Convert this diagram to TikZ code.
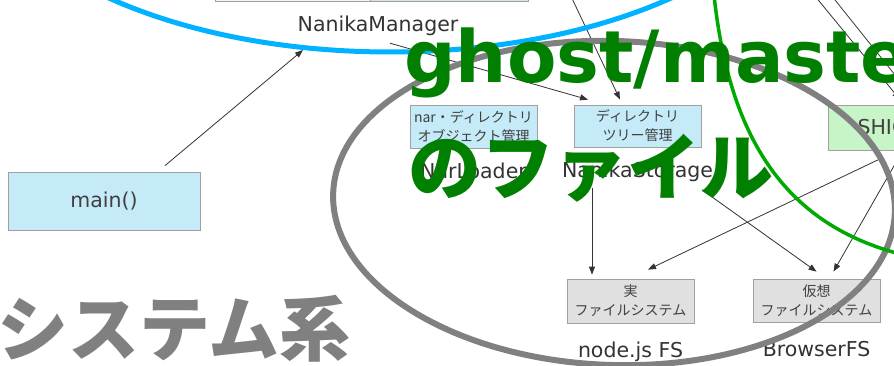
\documentclass[tikz,border=0pt]{standalone}
\usepackage{fontspec}
\setmainfont{DejaVu Sans}
\newfontfamily\jpfont{Noto Sans CJK JP}
\usetikzlibrary{positioning,arrows.meta}

\definecolor{boxblue}{HTML}{C5EAF8}
\definecolor{boxgreen}{HTML}{C8F5C8}
\definecolor{boxgray}{HTML}{E0E0E0}
\definecolor{boxline}{HTML}{A0A0A0}
\definecolor{mgrgray}{HTML}{F4F4F4}
\definecolor{mgrblue}{HTML}{D2E4EA}
\definecolor{ringblue}{HTML}{00B2FF}
\definecolor{ringgreen}{HTML}{00AA00}
\definecolor{ringgray}{HTML}{808080}
\definecolor{titlegreen}{HTML}{007F00}
\newcommand\lblfont{\fontsize{20.5}{24}\selectfont}

\begin{document}
\begin{tikzpicture}[x=1pt, y=-1pt,
  box/.style = {draw=boxline, line width=0.8pt, inner sep=0pt, align=center,
                text=black!75, font=\jpfont\fontsize{14}{19}\selectfont},
  bluebox/.style = {box, fill=boxblue, minimum width=127pt, minimum height=43pt},
  graybox/.style = {box, fill=boxgray, minimum width=127pt, minimum height=43pt},
  greenbox/.style = {box, fill=boxgreen, minimum width=130pt, minimum height=45pt,
                     font=\lblfont},
  mgrbox/.style = {box, minimum height=43pt},
  lbl/.style = {inner sep=0pt, text=black!80, font=\lblfont,
                text height=15pt, text depth=4pt},
  arr/.style = {draw=black!80, line width=0.8pt, -{Triangle[length=8pt,width=6pt]}},
  ring/.style = {line width=#1},
  big/.style = {inner sep=0pt, font=\fontsize{72}{72}\selectfont\bfseries},
  ]
  \useasboundingbox (0,0) rectangle (894,366);
  \fill[white] (0,0) rectangle (894,366);
  \clip (0,0) rectangle (894,366);

  \node[mgrbox, fill=mgrgray, minimum width=155pt] (mgrL) at (292.5,-20) {};
  \node[mgrbox, fill=mgrblue, minimum width=158pt] (mgrR) at (449,-20) {};
  \node[lbl] (mgr) at (378,26.5) {NanikaManager};
  \coordinate (mgrin) at (303,50);

  \node[bluebox, minimum width=192pt, minimum height=58pt, font=\lblfont] (main) at (104,201) {main()};

  \node[bluebox] (nar) at (473.5,126.5) {nar・ディレクトリ\\オブジェクト管理};
  \node[bluebox, minimum height=42pt] (tree) at (637.5,126) {ディレクトリ\\ツリー管理};
  \node[lbl, below=15pt of nar] (loader) {NarLoader};
  \node[lbl, below=15pt of tree] (storage) {NanikaStorage};
  \node[greenbox] (shiori) at (893,127.5) {SHIORI};

  \node[graybox, minimum height=44pt] (realfs) at (630.5,301) {実\\ファイルシステム};
  \node[graybox] (virtfs) at (816.5,300.5) {仮想\\ファイルシステム};
  \node[lbl, below=19pt of realfs] (nodefs) {node.js FS};
  \node[lbl, below=19pt of virtfs] (bfs) {BrowserFS};

  \coordinate (up1) at (568,-10);
  \coordinate (up2) at (810,-10);
  \coordinate (up3) at (827,-10);
  \coordinate (off1) at (915,100);

  \draw[arr] ([xshift=61pt,yshift=6pt]main.north) -- (mgrin);
  \draw[arr] ([xshift=12pt,yshift=-7pt]mgr.south) -- ([xshift=-49.5pt,yshift=5pt]tree.north);
  \draw[arr] (up1) -- ([xshift=-17.5pt,yshift=5pt]tree.north);
  \draw[arr] ([xshift=-45.5pt,yshift=-6pt]storage.south) -- ([xshift=-38.5pt,yshift=4pt]realfs.north);
  \draw[arr] ([xshift=64.5pt,yshift=-8pt]storage.south) -- ([yshift=7pt]virtfs.north);
  \draw[arr] ([xshift=-12pt,yshift=-8pt]shiori.south) -- ([xshift=17.5pt,yshift=9pt]realfs.north);
  \draw[arr] ([xshift=7pt,yshift=-5pt]shiori.south) -- ([xshift=17pt,yshift=7pt]virtfs.north);
  \draw[arr] (up2) -- ([xshift=7pt,yshift=5pt]shiori.north);
  \draw[arr] (up3) -- (off1);

  \draw[ring=6pt, ringgray, rotate around={-2:(614,203)}] (614,203) ellipse [x radius=281, y radius=162];
  \draw[ring=5pt, ringblue] (390,-158) ellipse [x radius=420, y radius=210];
  \draw[ring=3.5pt, ringgreen] (714,-5) .. controls (730,145) and (790,225) .. (900,254);

  \node[big, text=titlegreen, anchor=base west] (gmtitle) at (404,83) {ghost/master};
  \node[big, text=titlegreen, anchor=base west, font=\jpfont\fontsize{73}{73}\selectfont\bfseries] (gmfile) at (408,195) {のファイル};
  \node[big, text=ringgray, anchor=base east, font=\jpfont\fontsize{71}{71}\selectfont\bfseries] (fskind) at (351,355) {システム系};
\end{tikzpicture}
\end{document}
